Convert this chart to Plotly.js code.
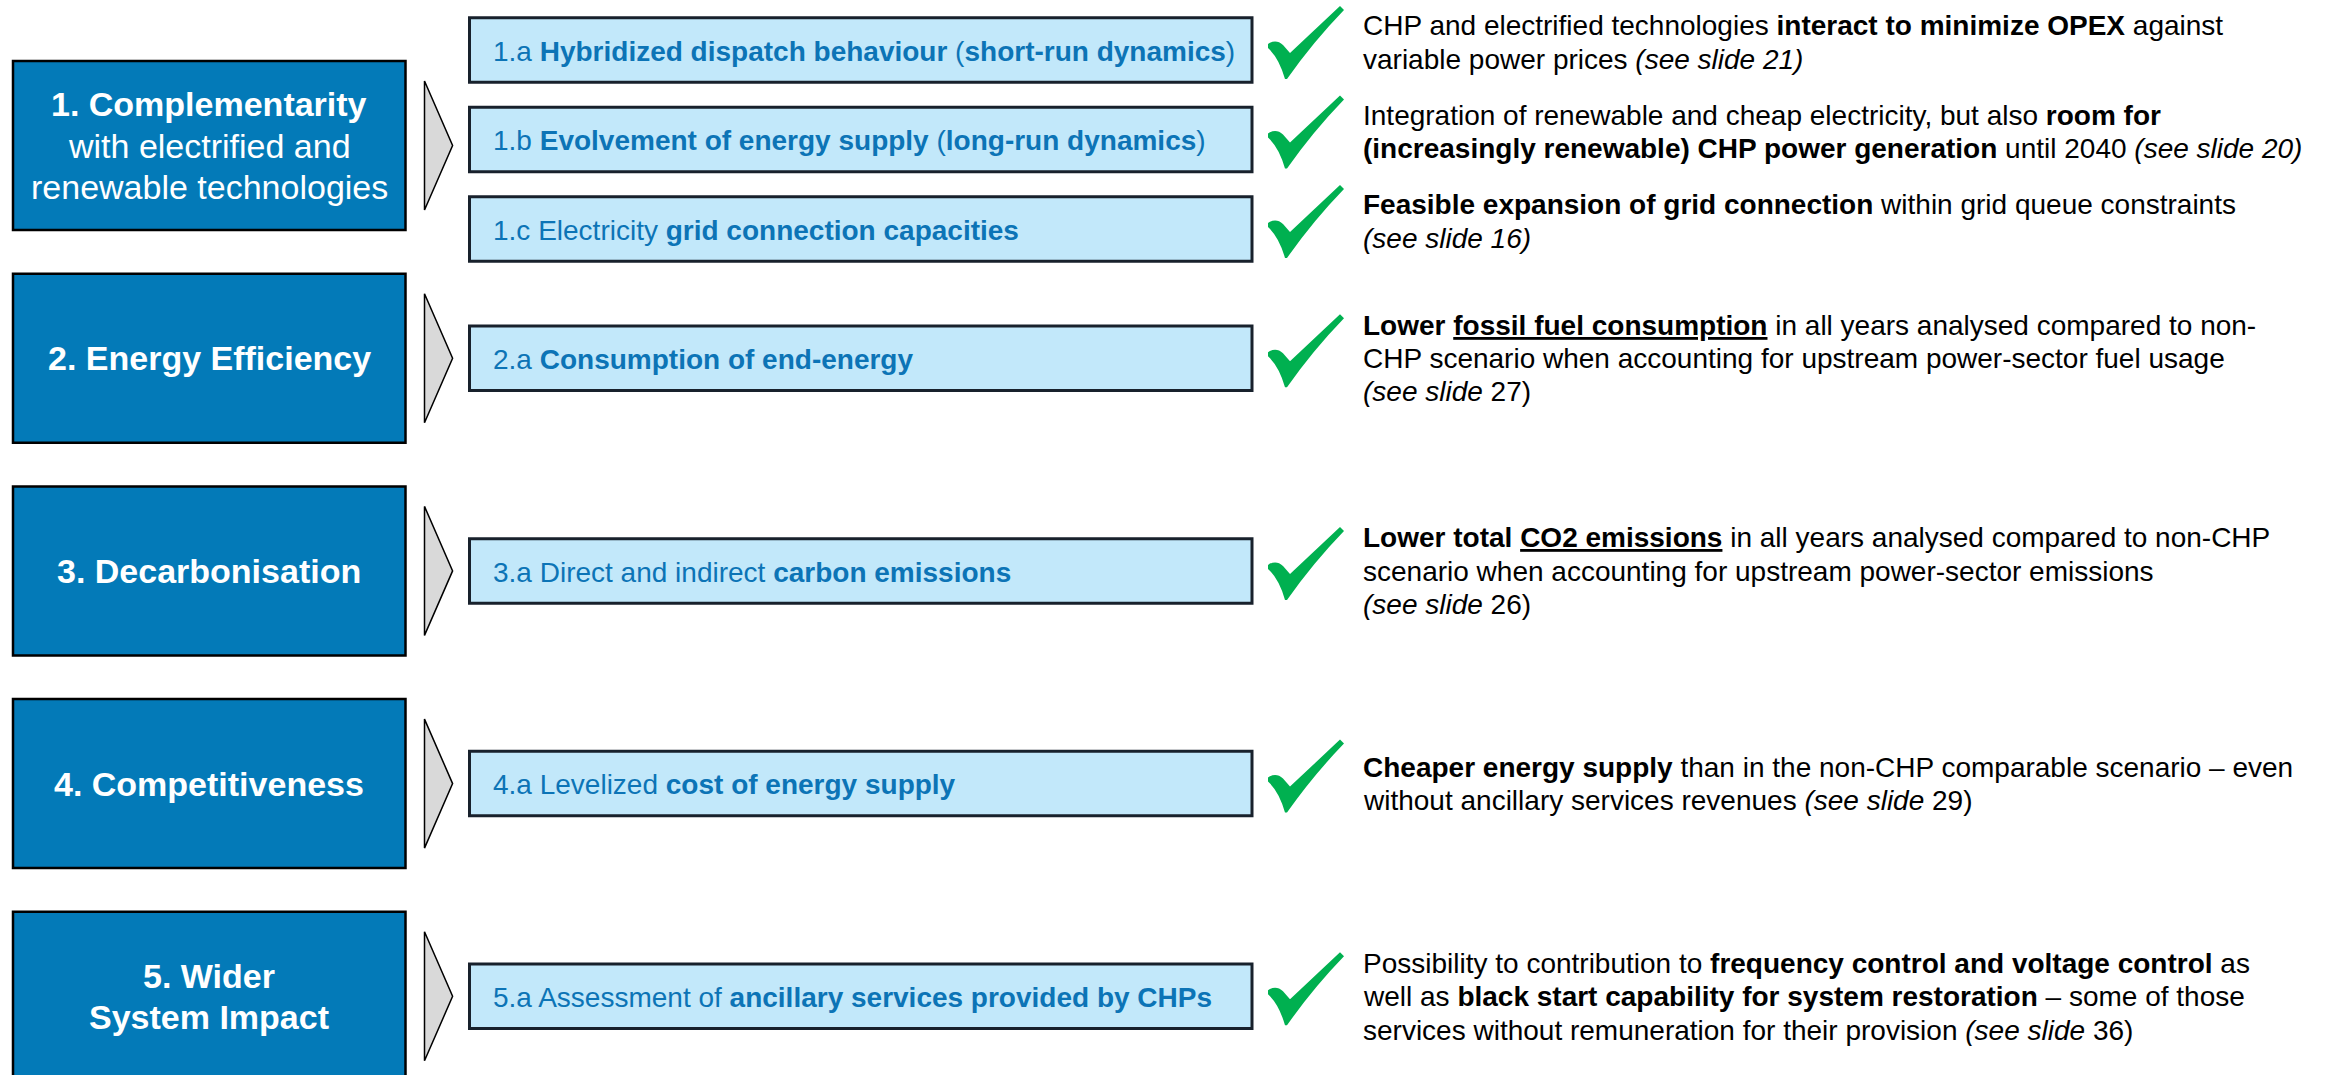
<!DOCTYPE html>
<html><head><meta charset="utf-8">
<script src="https://cdn.plot.ly/plotly-3.0.1.min.js"></script>
<style>html,body{margin:0;padding:0;background:#fff;overflow:hidden}</style>
</head><body><div id="chart" style="width:2325px;height:1075px"></div>
<script>
// ---------- content ----------
const pillarLines = [
  ["<b>1. Complementarity</b>", "with electrified and", "renewable technologies"],
  ["<b>2. Energy Efficiency</b>"],
  ["<b>3. Decarbonisation</b>"],
  ["<b>4. Competitiveness</b>"],
  ["<b>5. Wider</b>", "<b>System Impact</b>"]
];
const subLabels = [
  "1.a <b>Hybridized dispatch behaviour</b> (<b>short-run dynamics</b>)",
  "1.b <b>Evolvement of energy supply</b> (<b>long-run dynamics</b>)",
  "1.c Electricity <b>grid connection capacities</b>",
  "2.a <b>Consumption of end-energy</b>",
  "3.a Direct and indirect <b>carbon emissions</b>",
  "4.a Levelized <b>cost of energy supply</b>",
  "5.a Assessment of <b>ancillary services provided by CHPs</b>"
];
const subPillar = [0, 0, 0, 1, 2, 3, 4];
const findingLines = [
  ["CHP and electrified technologies <b>interact to minimize OPEX</b> against",
   "variable power prices <i>(see slide 21)</i>"],
  ["Integration of renewable and cheap electricity, but also <b>room for</b>",
   "<b>(increasingly renewable) CHP power generation</b> until 2040 <i>(see slide 20)</i>"],
  ["<b>Feasible expansion of grid connection</b> within grid queue constraints",
   "<i>(see slide 16)</i>"],
  ["<b>Lower <u>fossil fuel consumption</u></b> in all years analysed compared to non-",
   "CHP scenario when accounting for upstream power-sector fuel usage",
   "<i>(see slide</i> 27)"],
  ["<b>Lower total <u>CO2 emissions</u></b> in all years analysed compared to non-CHP",
   "scenario when accounting for upstream power-sector emissions",
   "<i>(see slide</i> 26)"],
  ["<b>Cheaper energy supply</b> than in the non-CHP comparable scenario – even",
   "without ancillary services revenues <i>(see slide</i> 29)"],
  ["Possibility to contribution to <b>frequency control and voltage control</b> as",
   "well as <b>black start capability for system restoration</b> – some of those",
   "services without remuneration for their provision <i>(see slide</i> 36)"]
];

// ---------- layout constants ----------
const W = 2325, H = 1075;
const FONT = "Liberation Sans, Arial, sans-serif";
const mainX0 = 13, mainX1 = 405.5, mainTop0 = 61, mainStep = 212.7, mainH = 169;
const arrowX0 = 424.5, arrowX1 = 452.6, arrowH = 129;
const subX0 = 469.5, subX1 = 1252, subH = 64.5, subGroupStep = 89.5, subGroupShift = -6;
const checkX = 1268, checkDy = -44;
const textX = 1361, textFs = 28, textLine = 33.4;
const pillarFs = 34, pillarLine = 41.5;
const subTextX = 491, subFs = 28;
const BLUE = "#037AB8", SUBFILL = "#C2E8FA", SUBTEXT = "#0C74B6", GREEN = "#00B050";

const shapes = [], annotations = [];
function midFromBaseline(b, fs) { return b - 0.3465 * fs; }

const pillarCenters = pillarLines.map((_, i) => mainTop0 + i * mainStep + mainH / 2);

pillarLines.forEach((lines, i) => {
  const top = mainTop0 + i * mainStep, c = pillarCenters[i];
  shapes.push({type: "rect", xref: "x", yref: "y", x0: mainX0, x1: mainX1, y0: top, y1: top + mainH,
    fillcolor: BLUE, line: {color: "#000", width: 2.5}, layer: "below"});
  shapes.push({type: "path", xref: "x", yref: "y",
    path: `M ${arrowX0},${c - arrowH / 2} L ${arrowX1},${c} L ${arrowX0},${c + arrowH / 2} Z`,
    fillcolor: "#D9D9D9", line: {color: "#000", width: 1.5}});
  const n = lines.length;
  lines.forEach((t, j) => {
    const base = c + 12 + (j - (n - 1) / 2) * pillarLine;
    annotations.push({xref: "x", yref: "y", x: (mainX0 + mainX1) / 2, y: midFromBaseline(base, pillarFs),
      text: t, showarrow: false, xanchor: "center", yanchor: "middle",
      font: {family: FONT, size: pillarFs, color: "#fff"}});
  });
});

// sub box centers
const counts = {};
subPillar.forEach(p => counts[p] = (counts[p] || 0) + 1);
const seen = {};
const subCenters = subPillar.map(p => {
  const k = counts[p], j = (seen[p] = (seen[p] === undefined ? 0 : seen[p] + 1));
  const shift = k > 1 ? subGroupShift : 0;
  return pillarCenters[p] + shift + (j - (k - 1) / 2) * subGroupStep;
});

const checkCmds = [["M",0,38],["C",4,35,10,34,15,39],["L",22,47],["L",72,0],["L",76,4],
  ["Q",45,36,19,73],["L",17,73],["Q",11,52,0,42],["Z"]];
function checkPath(x, y) {
  return checkCmds.map(c => {
    let s = c[0];
    for (let k = 1; k < c.length; k += 2) s += " " + (x + c[k]) + "," + (y + c[k + 1]);
    return s;
  }).join(" ");
}

subLabels.forEach((lab, i) => {
  const c = subCenters[i];
  shapes.push({type: "rect", xref: "x", yref: "y", x0: subX0, x1: subX1, y0: c - subH / 2, y1: c + subH / 2,
    fillcolor: SUBFILL, line: {color: "#18212C", width: 3}});
  annotations.push({xref: "x", yref: "y", x: subTextX, y: midFromBaseline(c + 11, subFs),
    text: lab, showarrow: false, xanchor: "left", yanchor: "middle",
    font: {family: FONT, size: subFs, color: SUBTEXT}});
  shapes.push({type: "path", xref: "x", yref: "y", path: checkPath(checkX, c + checkDy),
    fillcolor: GREEN, line: {width: 0}});
  const lines = findingLines[i], n = lines.length;
  const off = subPillar[i] === 0 ? 2 : 10;
  lines.forEach((t, j) => {
    const base = c + off + (j - (n - 1) / 2) * textLine;
    annotations.push({xref: "x", yref: "y", x: textX, y: midFromBaseline(base, textFs),
      text: t, showarrow: false, xanchor: "left", yanchor: "middle",
      font: {family: FONT, size: textFs, color: "#000"}});
  });
});

const layout = {
  width: W, height: H, margin: {l: 0, r: 0, t: 0, b: 0, pad: 0},
  paper_bgcolor: "#fff", plot_bgcolor: "#fff", showlegend: false,
  xaxis: {range: [0, W], visible: false, fixedrange: true},
  yaxis: {range: [H, 0], visible: false, fixedrange: true},
  shapes, annotations
};
Plotly.newPlot("chart", [], layout, {displayModeBar: false, staticPlot: true});
</script></body></html>
